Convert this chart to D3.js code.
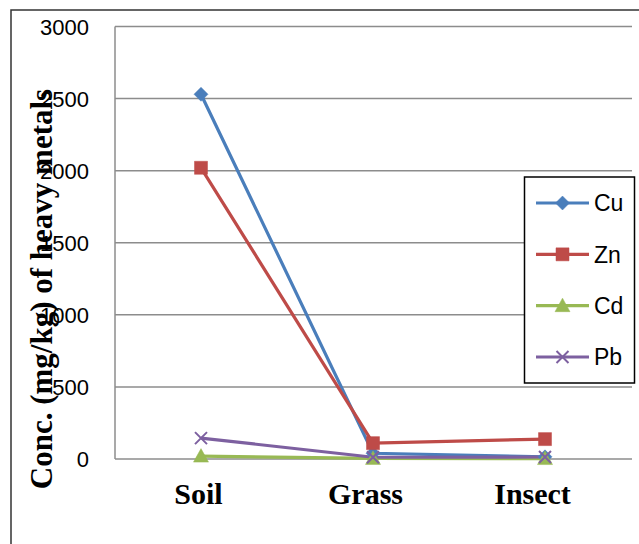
<!DOCTYPE html>
<html>
<head>
<meta charset="utf-8">
<script src="https://cdn.jsdelivr.net/npm/d3@7"></script>
<style>
    body { margin: 0; background: #fff; }
    .grid line { stroke: #8c8c8c; stroke-width: 1.5px; }
    .tick text { fill: #000; }
</style>
</head>
<body>
<svg id="chart" width="639" height="544"></svg>
<script>
"use strict";
var categories = ["Soil", "Grass", "Insect"];
var yTicks = [0, 500, 1000, 1500, 2000, 2500, 3000];
var seriesNames = ["Cu", "Zn", "Cd", "Pb"];
var cuValues = [2530, 40, 15];
var znValues = [2020, 110, 138];
var cdValues = [20, 4, 3];
var pbValues = [145, 12, 14];

(function () {
    var series = [
        { name: seriesNames[0], values: cuValues, color: "#4a7ebb", marker: "diamond" },
        { name: seriesNames[1], values: znValues, color: "#be4b48", marker: "square" },
        { name: seriesNames[2], values: cdValues, color: "#98b954", marker: "triangle" },
        { name: seriesNames[3], values: pbValues, color: "#7d60a0", marker: "cross" }
    ];

    var svg = d3.select("#chart");
    var plotLeft = 115, plotRight = 631, plotTop = 26.5, plotBottom = 459;

    // frame (only top and left show in the picture)
    svg.append("path")
        .attr("d", "M11,544V10H639")
        .attr("fill", "none")
        .attr("stroke", "#333")
        .attr("stroke-width", 1.5);

    var x = d3.scaleBand().domain(categories).range([plotLeft, plotRight]);
    var xLabel = d3.scaleBand().domain(categories).range([plotLeft, plotLeft + (plotRight - plotLeft) * 0.971]);
    var y = d3.scaleLinear().domain([0, 3000]).range([plotBottom, plotTop]);

    // gridlines
    svg.append("g").attr("class", "grid")
        .selectAll("line").data(yTicks).enter().append("line")
        .attr("x1", plotLeft).attr("x2", plotRight + 1)
        .attr("y1", function (d) { return y(d); })
        .attr("y2", function (d) { return y(d); });

    svg.append("line")
        .attr("x1", plotLeft).attr("x2", plotLeft)
        .attr("y1", plotTop).attr("y2", plotBottom)
        .attr("stroke", "#8c8c8c").attr("stroke-width", 1.5);

    // y tick labels
    var yAxis = svg.append("g")
        .attr("transform", "translate(" + (plotLeft - 26) + ",0)")
        .call(d3.axisLeft(y).tickValues(yTicks).tickFormat(d3.format("d")).tickSize(0).tickPadding(0));
    yAxis.select(".domain").remove();
    yAxis.selectAll("text")
        .attr("dy", "0.36em")
        .style("font-family", "'Liberation Sans', Arial, sans-serif")
        .style("font-size", "22px");

    // x labels
    var xAxis = svg.append("g")
        .attr("transform", "translate(0," + plotBottom + ")")
        .call(d3.axisBottom(xLabel).tickSize(0).tickPadding(0));
    xAxis.select(".domain").remove();
    xAxis.selectAll("text")
        .attr("y", 45).attr("dy", 0)
        .style("font-family", "'Liberation Serif', 'Times New Roman', serif")
        .style("font-weight", "bold")
        .style("font-size", "30px");

    // axis title
    svg.append("text")
        .attr("transform", "translate(52,289) rotate(-90)")
        .attr("text-anchor", "middle")
        .style("font-family", "'Liberation Serif', 'Times New Roman', serif")
        .style("font-weight", "bold")
        .style("font-size", "31px")
        .text("Conc. (mg/kg) of heavy metals");

    function markerPath(type) {
        if (type === "diamond") return "M0,-7L7,0L0,7L-7,0Z";
        if (type === "square") return "M-6.5,-6.5H6.5V6.5H-6.5Z";
        if (type === "triangle") return "M0,-7.5L7.5,6H-7.5Z";
        return "M-6,-6L6,6M6,-6L-6,6";
    }

    function drawMarker(g, type, color) {
        g.append("path")
            .attr("d", markerPath(type))
            .attr("fill", type === "cross" ? "none" : color)
            .attr("stroke", color)
            .attr("stroke-width", type === "cross" ? 2 : 0.5);
    }

    var line = d3.line()
        .x(function (d, i) { return x(categories[i]) + x.bandwidth() / 2; })
        .y(function (d) { return y(d); });

    var lines = svg.append("g");
    series.forEach(function (s) {
        lines.append("path")
            .attr("d", line(s.values))
            .attr("fill", "none")
            .attr("stroke", s.color)
            .attr("stroke-width", 3.2);
    });
    series.forEach(function (s) {
        s.values.forEach(function (v, i) {
            var g = lines.append("g")
                .attr("transform", "translate(" + (x(categories[i]) + x.bandwidth() / 2) + "," + y(v) + ")");
            drawMarker(g, s.marker, s.color);
        });
    });

    // legend
    var legend = svg.append("g");
    legend.append("rect")
        .attr("x", 524.5).attr("y", 177)
        .attr("width", 110).attr("height", 206)
        .attr("fill", "#fff").attr("stroke", "#000").attr("stroke-width", 1.5);

    var legendY = d3.scalePoint().domain(seriesNames).range([203, 357]);
    series.forEach(function (s) {
        var ly = legendY(s.name);
        legend.append("line")
            .attr("x1", 536).attr("x2", 589)
            .attr("y1", ly).attr("y2", ly)
            .attr("stroke", s.color).attr("stroke-width", 3.2);
        var g = legend.append("g").attr("transform", "translate(562.5," + ly + ")");
        drawMarker(g, s.marker, s.color);
        legend.append("text")
            .attr("x", 594).attr("y", ly).attr("dy", "0.36em")
            .style("font-family", "'Liberation Sans', Arial, sans-serif")
            .style("font-size", "23px")
            .text(s.name);
    });
}());
</script>
</body>
</html>
